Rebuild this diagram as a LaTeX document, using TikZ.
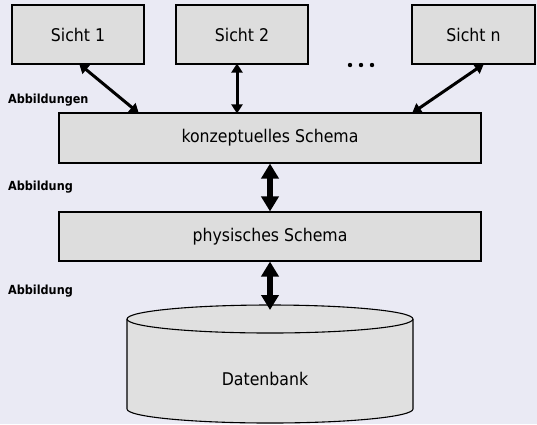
\documentclass[tikz,border=0pt]{standalone}
\usepackage{fontspec}
\setmainfont{DejaVu Sans Condensed}
\usetikzlibrary{arrows.meta,calc}
\definecolor{bg}{RGB}{234,234,244}
\definecolor{boxfill}{RGB}{221,221,221}
\definecolor{dbfill}{RGB}{224,224,224}
\begin{document}
\begin{tikzpicture}[x=1pt,y=-1pt,
  box/.style={draw=black,line width=1.1pt,fill=boxfill,inner sep=0pt,font=\fontsize{17.5}{19}\selectfont},
  lbl/.style={font=\bfseries\fontsize{12.5}{14}\selectfont,anchor=west,inner sep=0pt},
  thin/.style={line width=3pt,{Triangle[width=11pt,length=9pt]}-{Triangle[width=11pt,length=9pt]},shorten <=-1pt,shorten >=-1pt},
  thick/.style={line width=6.5pt,{Triangle[width=17pt,length=15pt]}-{Triangle[width=17pt,length=15pt]}}]
\fill[bg] (0,0) rectangle (537,424);
\useasboundingbox (0,0) rectangle (537,424);
% view boxes
\node[box,minimum width=132pt,minimum height=59pt] (s1) at (78,34.5) {Sicht 1};
\node[box,minimum width=132pt,minimum height=59pt] (s2) at (242,34.5) {Sicht 2};
\node[box,minimum width=123pt,minimum height=59pt] (sn) at (473.5,34.5) {Sicht n};
\node[inner sep=0pt] (dots) at (361,65) {\tikz[x=1pt,y=1pt]{\fill (0,0) circle (2.2);\fill (11,0) circle (2.2);\fill (22,0) circle (2.2);}};
% schema boxes
\node[box,minimum width=422pt,minimum height=50pt] (k) at (270,138) {konzeptuelles Schema};
\node[box,minimum width=422pt,minimum height=49pt] (p) at (270,236.5) {physisches Schema};
% database cylinder
\draw[line width=1.1pt,fill=dbfill] (127,319) -- (127,409) arc[start angle=180,end angle=360,x radius=143,y radius=-14] -- (413,319) arc[start angle=0,end angle=180,x radius=143,y radius=-14] -- cycle;
\draw[line width=1.1pt] (127,319) arc[start angle=180,end angle=360,x radius=143,y radius=-14];
\node[font=\fontsize{17.5}{19}\selectfont] (db) at (265,379) {Datenbank};
\coordinate (dbtop) at (270,310);
% labels
\node[lbl] (l1) at (8,100) {Abbildungen};
\node[lbl] (l2) at (8,187) {Abbildung};
\node[lbl] (l3) at (8,291) {Abbildung};
% arrows
\draw[thin] ([xshift=2pt]s1.south) -- ([xshift=-132pt]k.north);
\draw[thin] ([xshift=-5pt]s2.south) -- ([xshift=-33pt]k.north);
\draw[thin] ([xshift=9.5pt]sn.south) -- ([xshift=143pt]k.north);
\draw[thick] (k.south) -- (p.north);
\draw[thick] (p.south) -- (dbtop);
\end{tikzpicture}
\end{document}
